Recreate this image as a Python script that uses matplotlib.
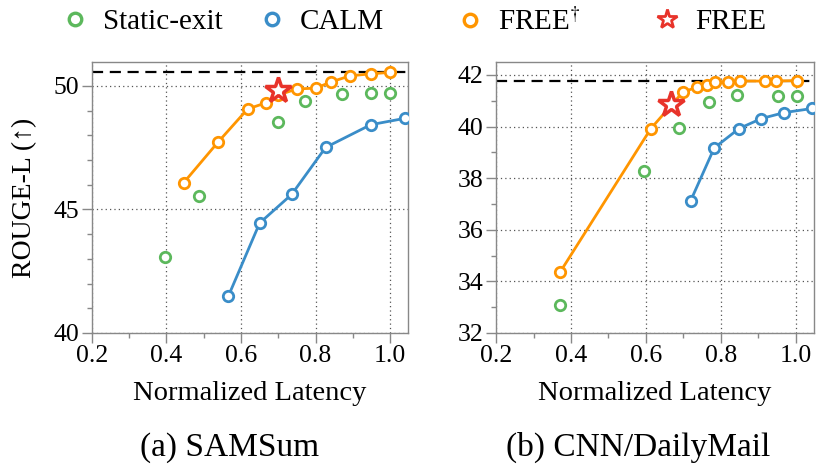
import matplotlib
matplotlib.use("Agg")
import matplotlib.pyplot as plt
from matplotlib.lines import Line2D
from matplotlib.ticker import MultipleLocator

plt.rcParams['font.family'] = ['Liberation Serif', 'DejaVu Serif']
plt.rcParams['mathtext.fontset'] = 'stix'

# ---- data: SAMSum ----
sam_static_x = [0.395, 0.486, 0.698, 0.772, 0.870, 0.948, 1.000]
sam_static_y = [43.09, 45.55, 48.53, 49.41, 49.68, 49.70, 49.73]
sam_calm_x = [0.566, 0.650, 0.736, 0.827, 0.948, 1.040]
sam_calm_y = [41.49, 44.45, 45.61, 47.51, 48.43, 48.69]
sam_freed_x = [0.446, 0.538, 0.618, 0.668, 0.698, 0.750, 0.801, 0.841, 0.893, 0.948, 1.000]
sam_freed_y = [46.08, 47.72, 49.07, 49.32, 49.62, 49.88, 49.91, 50.16, 50.41, 50.49, 50.55]
sam_free_x = [0.698]
sam_free_y = [49.84]
sam_full = 50.55

# ---- data: CNN/DailyMail ----
cnn_static_x = [0.371, 0.596, 0.688, 0.767, 0.842, 0.951, 1.002]
cnn_static_y = [33.10, 38.28, 39.94, 40.96, 41.24, 41.19, 41.20]
cnn_calm_x = [0.719, 0.782, 0.848, 0.908, 0.969, 1.044]
cnn_calm_y = [37.12, 39.17, 39.92, 40.31, 40.54, 40.70]
cnn_freed_x = [0.371, 0.613, 0.698, 0.737, 0.762, 0.785, 0.818, 0.852, 0.918, 0.947, 1.002]
cnn_freed_y = [34.36, 39.92, 41.33, 41.53, 41.61, 41.73, 41.73, 41.76, 41.76, 41.76, 41.78]
cnn_free_x = [0.666]
cnn_free_y = [40.89]
cnn_full = 41.78

x_ticks = [0.2, 0.4, 0.6, 0.8, 1.0]
x_ticklabels = ['0.2', '0.4', '0.6', '0.8', '1.0']
sam_yticks = [40, 45, 50]
cnn_yticks = [32, 34, 36, 38, 40, 42]

legend_labels = ['Static-exit', 'CALM', r'FREE$^{\dagger}$', 'FREE']

C_GREEN = '#5cb85c'
C_BLUE = '#3a8dc8'
C_ORANGE = '#ff9500'
C_RED = '#e8332a'

fig = plt.figure(figsize=(8.3, 4.65), dpi=100)
ax1 = fig.add_axes([0.1108, 0.2839, 0.3807, 0.5828])
ax2 = fig.add_axes([0.5976, 0.2839, 0.3831, 0.5828])

mk = dict(marker='o', markersize=7.5, markerfacecolor='white', markeredgewidth=2.0)

def draw(ax, sx, sy, cx, cy, fx, fy, sfx, sfy, full, ylim, yticks, yminor):
    ax.axhline(full, color='black', lw=1.6, ls=(0, (5, 3)), zorder=2)
    ax.plot(sx, sy, ls='none', color=C_GREEN, markeredgecolor=C_GREEN, zorder=3, **mk)
    ax.plot(cx, cy, color=C_BLUE, lw=2.0, markeredgecolor=C_BLUE, zorder=3, **mk)
    ax.plot(fx, fy, color=C_ORANGE, lw=2.0, markeredgecolor=C_ORANGE, zorder=4, **mk)
    ax.plot(sfx, sfy, ls='none', marker='*', markersize=19, markerfacecolor='white',
            markeredgecolor=C_RED, markeredgewidth=2.5, zorder=5)
    ax.set_xlim(0.2, 1.048)
    ax.set_ylim(*ylim)
    ax.set_xticks(x_ticks)
    ax.set_xticklabels(x_ticklabels)
    ax.xaxis.set_minor_locator(MultipleLocator(0.1))
    ax.set_yticks(yticks)
    ax.yaxis.set_minor_locator(MultipleLocator(yminor))
    ax.grid(True, which='major', ls=(0, (1, 2.5)), color='#555555', lw=0.9)
    ax.set_axisbelow(True)
    for s in ax.spines.values():
        s.set_color('#888888')
        s.set_linewidth(1.0)
    ax.tick_params(which='major', direction='out', length=7, width=1.0, color='#888888',
                   labelsize=18.5, pad=2)
    ax.tick_params(which='minor', direction='out', length=3.5, width=1.0, color='#888888')
    ax.set_xlabel('Normalized Latency', fontsize=20.5, labelpad=10)

draw(ax1, sam_static_x, sam_static_y, sam_calm_x, sam_calm_y, sam_freed_x, sam_freed_y,
     sam_free_x, sam_free_y, sam_full, (40, 50.97), sam_yticks, 1)
draw(ax2, cnn_static_x, cnn_static_y, cnn_calm_x, cnn_calm_y, cnn_freed_x, cnn_freed_y,
     cnn_free_x, cnn_free_y, cnn_full, (32, 42.5), cnn_yticks, 1)

ax1.set_ylabel('ROUGE-L (↑)', fontsize=20, labelpad=12)

fig.text(0.277, 0.038, '(a) SAMSum', ha='center', va='center', fontsize=24)
fig.text(0.769, 0.038, '(b) CNN/DailyMail', ha='center', va='center', fontsize=24)

handles = [
    Line2D([], [], ls='none', color=C_GREEN, markeredgecolor=C_GREEN,
           marker='o', markersize=9, markerfacecolor='white', markeredgewidth=2.4),
    Line2D([], [], ls='none', color=C_BLUE, markeredgecolor=C_BLUE,
           marker='o', markersize=9, markerfacecolor='white', markeredgewidth=2.4),
    Line2D([], [], ls='none', color=C_ORANGE, markeredgecolor=C_ORANGE,
           marker='o', markersize=9, markerfacecolor='white', markeredgewidth=2.4),
    Line2D([], [], ls='none', marker='*', markersize=15, markerfacecolor='white',
           markeredgecolor=C_RED, markeredgewidth=2.0),
]
marker_px = [75, 272, 470, 667]
for h, lab, mx in zip(handles, legend_labels, marker_px):
    fs = 21
    half = 0.5 * fs * 100 / 72.0
    fig.legend([h], [lab], loc='center left',
               bbox_to_anchor=((mx - half) / 830.0, 1 - 22 / 465.0),
               frameon=False, fontsize=fs, handlelength=1.0, handletextpad=0.45,
               borderpad=0, borderaxespad=0)

fig.savefig('out.png', dpi=100)
